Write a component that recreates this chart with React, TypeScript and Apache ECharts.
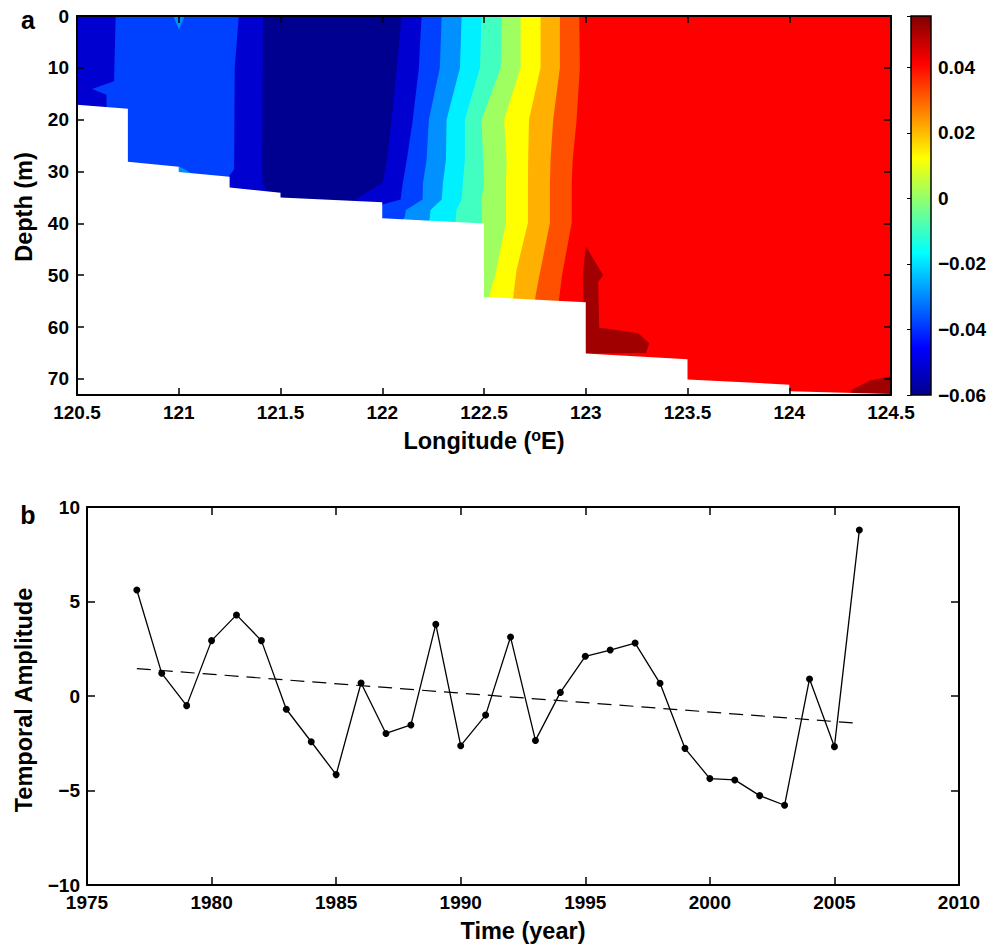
import { useEffect, useRef } from "react";
import * as echarts from "echarts";

type Pt = [number, number];

const FONT = '"Liberation Sans", Arial, Helvetica, sans-serif';

// ---------- Panel a : contour section ----------
const lonMin = 120.5;
const lonMax = 124.5;
const depthMax = 73.1;
const cbMin = -0.06;
const cbMax = 0.0557;

// Contour boundaries [longitude, depth], listed from the surface downward
const contourA: Pt[] = [[120.69, 0], [120.682, 12.6], [120.574, 14.1], [120.645, 15.2], [120.645, 80]];
const contourB: Pt[] = [[121.295, 0], [121.275, 10], [121.272, 29.6], [121.246, 30.9], [121.246, 80]];
const contourC: Pt[] = [[121.414, 0], [121.41, 29.0], [121.413, 32.5], [121.438, 34], [121.438, 80]];
const contourD: Pt[] = [[122.095, 0], [122.072, 10], [122.046, 20], [122.023, 27.7], [122.003, 32.1], [121.88, 35.1], [121.792, 37.4], [121.792, 80]];
const contourE: Pt[] = [[122.193, 0], [122.18, 10], [122.15, 20], [122.121, 27.7], [122.101, 32.2], [122.09, 35.4], [121.997, 36.4], [121.89, 37.4], [121.89, 80]];
const contourF: Pt[] = [[122.292, 0], [122.283, 10], [122.229, 20], [122.218, 27.7], [122.2, 32.2], [122.198, 35.4], [122.116, 37.4], [122.111, 38.7], [122.062, 41.2], [122.062, 80]];
const contourG: Pt[] = [[122.39, 0], [122.382, 10], [122.316, 20], [122.313, 27.7], [122.298, 32.2], [122.292, 35.4], [122.237, 37.4], [122.234, 38.7], [122.224, 41.2], [122.224, 80]];
const contourH: Pt[] = [[122.488, 0], [122.48, 10], [122.406, 20], [122.406, 27.7], [122.396, 32.2], [122.39, 35.4], [122.365, 37.4], [122.362, 38.7], [122.357, 41.2], [122.357, 80]];
const contourI: Pt[] = [[122.587, 0], [122.582, 10], [122.488, 20], [122.496, 27.7], [122.5, 32.2], [122.488, 35.4], [122.49, 39.9], [122.49, 80]];
const contourJ: Pt[] = [[122.68, 0], [122.68, 10], [122.599, 20], [122.611, 27.7], [122.608, 32.2], [122.608, 39.9], [122.554, 50.3], [122.537, 52.2], [122.524, 54.8], [122.524, 80]];
const contourK: Pt[] = [[122.778, 0], [122.778, 10], [122.721, 20], [122.717, 27.7], [122.716, 32.2], [122.716, 39.9], [122.66, 49.0], [122.648, 52.8], [122.642, 54.8], [122.642, 80]];
const contourL: Pt[] = [[122.873, 0], [122.873, 10], [122.84, 20], [122.827, 27.7], [122.824, 32.2], [122.824, 39.9], [122.771, 50.3], [122.759, 52.8], [122.75, 54.8], [122.75, 80]];
const contourM: Pt[] = [[122.968, 0], [122.971, 10], [122.955, 20], [122.936, 27.7], [122.931, 32.2], [122.931, 39.9], [122.882, 50.3], [122.873, 53.4], [122.868, 54.8], [122.868, 80]];

// Small closed patches
const patchTop121: Pt[] = [[120.973, 0], [121.029, 0], [121.001, 2.6]];
const patchBottom121: Pt[] = [[121.0, 29.0], [121.0, 30.2], [121.06, 30.3], [121.03, 29.6]];
const patchDarkRed1: Pt[] = [[123.0, 44.4], [123.086, 50.0], [123.061, 51.3], [123.066, 60.1], [123.258, 61.2], [123.312, 63.1], [123.296, 65.0], [123.0, 65.1], [122.985, 50.3]];
const patchDarkRed2: Pt[] = [[124.307, 72.1], [124.397, 70.3], [124.5, 69.5], [124.6, 69.5], [124.6, 76], [124.3, 76]];

// Sea-floor profile [longitude, depth]
const bottomProfile: Pt[] = [
  [120.5, 17.1], [120.75, 17.9], [120.75, 28.1], [121.0, 29.1], [121.0, 30.1], [121.25, 31.0],
  [121.25, 33.1], [121.5, 34.1], [121.5, 35.0], [122.0, 35.9], [122.0, 39.0], [122.5, 40.0],
  [122.5, 54.2], [123.0, 55.2], [123.0, 65.1], [123.5, 66.2], [123.5, 70.1], [124.0, 71.1],
  [124.0, 72.4], [124.5, 72.9],
];

const contourLines: Pt[][] = [contourA, contourB, contourC, contourD, contourE, contourF, contourG, contourH, contourI, contourJ, contourK, contourL, contourM];
const bandColors = ["#0000D0", "#0040FF", "#0000D0", "#000090", "#0000D0", "#0040FF", "#0090FF", "#00F0FF", "#40FFC0", "#A0FF60", "#FFFF00", "#FFB000", "#FF5000", "#FF0000"];
const patchLight = "#0090FF";
const patchDark = "#A00000";

// Jet colour stops for the colour bar (top → bottom)
const jetStops: [number, string][] = [[0, "#800000"], [0.125, "#FF0000"], [0.375, "#FFFF00"], [0.625, "#00FFFF"], [0.875, "#0000FF"], [1, "#00008F"]];

// ---------- Panel b : temporal amplitude ----------
const years = [1977, 1978, 1979, 1980, 1981, 1982, 1983, 1984, 1985, 1986, 1987, 1988, 1989, 1990, 1991, 1992, 1993, 1994, 1995, 1996, 1997, 1998, 1999, 2000, 2001, 2002, 2003, 2004, 2005, 2006];
const amplitude = [5.61, 1.2, -0.51, 2.93, 4.29, 2.93, -0.7, -2.42, -4.16, 0.69, -1.98, -1.53, 3.79, -2.63, -1.01, 3.12, -2.35, 0.19, 2.1, 2.43, 2.8, 0.67, -2.77, -4.37, -4.44, -5.27, -5.78, 0.9, -2.68, 8.78];
const trendYears = [1977, 2006];
const trendValues = [1.45, -1.45];

// ---------- build layers ----------
type Layer = { pts: Pt[]; color: string };
const layers: Layer[] = [];
layers.push({ pts: [[lonMin - 0.1, -1], [lonMax + 0.1, -1], [lonMax + 0.1, 80], [lonMin - 0.1, 80]], color: bandColors[0] });
contourLines.forEach((line, i) => {
  const pts: Pt[] = [[line[0][0], -1], ...line, [lonMax + 0.1, 80], [lonMax + 0.1, -1]];
  layers.push({ pts, color: bandColors[i + 1] });
  if (i === 0) {
    layers.push({ pts: patchTop121, color: patchLight });
    layers.push({ pts: patchBottom121, color: patchLight });
  }
});
layers.push({ pts: patchDarkRed1, color: patchDark });
layers.push({ pts: patchDarkRed2, color: patchDark });
layers.push({ pts: [...bottomProfile, [lonMax + 0.1, 72.9], [lonMax + 0.1, 80], [lonMin - 0.1, 80], [lonMin - 0.1, 17.1]], color: "#FFFFFF" });

const minus = (s: string) => s.replace("-", "\u2212");
const lineSt = { color: "#000", width: 2 };
const tickSt = { color: "#000", width: 1.5 };
const lbl = { color: "#000", fontFamily: FONT, fontWeight: "bold" as const, fontSize: 19 };
const TITLE = 23.5;

function ax(extra: any) {
  return {
    type: "value",
    axisLine: { show: true, onZero: false, lineStyle: lineSt },
    axisTick: { show: true, inside: true, length: 7, lineStyle: tickSt },
    splitLine: { show: false },
    z: 5,
    ...extra,
  };
}

const option: any = {
  animation: false,
  backgroundColor: "#fff",
  grid: [
    { left: 77, top: 16, width: 814, height: 379 },
    { left: 911, top: 16, width: 20, height: 379 },
    { left: 87, top: 507, width: 872, height: 378 },
  ],
  xAxis: [
    ax({ gridIndex: 0, min: lonMin, max: lonMax, interval: 0.5, position: "bottom", axisLabel: { ...lbl, margin: 8, formatter: (v: number) => String(v) } }),
    ax({ gridIndex: 0, min: lonMin, max: lonMax, interval: 0.5, position: "top", axisLabel: { show: false } }),
    { gridIndex: 1, type: "value", min: 0, max: 1, show: false },
    ax({ gridIndex: 2, min: 1975, max: 2010, interval: 5, position: "bottom", axisTick: { show: true, inside: true, length: 8, lineStyle: tickSt }, axisLabel: { ...lbl, margin: 8, formatter: (v: number) => String(v) } }),
    ax({ gridIndex: 2, min: 1975, max: 2010, interval: 5, position: "top", axisTick: { show: true, inside: true, length: 8, lineStyle: tickSt }, axisLabel: { show: false } }),
  ],
  yAxis: [
    ax({
      gridIndex: 0, inverse: true, min: 0, max: depthMax, interval: 10, position: "left",
      axisLabel: { ...lbl, margin: 8, formatter: (v: number) => (Math.abs(v - Math.round(v / 10) * 10) < 1e-6 ? String(Math.round(v)) : "") },
    }),
    ax({ gridIndex: 0, inverse: true, min: 0, max: depthMax, interval: 10, position: "right", axisLabel: { show: false } }),
    {
      gridIndex: 1, type: "value", min: cbMin, max: cbMax, interval: 0.02, position: "right", z: 5,
      axisLine: { show: false },
      axisTick: { show: true, inside: true, length: 4, lineStyle: { color: "#000", width: 1 } },
      splitLine: { show: false },
      axisLabel: {
        ...lbl, margin: 7,
        formatter: (v: number) => {
          const r = Math.round(v * 100) / 100;
          if (Math.abs(r - v) > 1e-6) return "";
          if (r === 0) return "0";
          return minus(r.toFixed(2));
        },
      },
    },
    ax({ gridIndex: 2, min: -10, max: 10, interval: 5, position: "left", axisTick: { show: true, inside: true, length: 8, lineStyle: tickSt }, axisLabel: { ...lbl, margin: 7, formatter: (v: number) => minus(String(v)) } }),
    ax({ gridIndex: 2, min: -10, max: 10, interval: 5, position: "right", axisTick: { show: true, inside: true, length: 8, lineStyle: tickSt }, axisLabel: { show: false } }),
  ],
  series: [
    {
      type: "custom",
      xAxisIndex: 0,
      yAxisIndex: 0,
      clip: true,
      silent: true,
      z: 1,
      data: layers.map(() => [lonMin, 0]),
      renderItem: (params: any, api: any) => {
        const layer = layers[params.dataIndex];
        return {
          type: "polygon",
          shape: { points: layer.pts.map((p) => api.coord(p)) },
          style: { fill: layer.color },
        };
      },
    },
    {
      type: "custom",
      xAxisIndex: 2,
      yAxisIndex: 2,
      silent: true,
      z: 1,
      data: [[0, cbMin]],
      renderItem: (_params: any, api: any) => {
        const p0 = api.coord([0, cbMax]);
        const p1 = api.coord([1, cbMin]);
        return {
          type: "rect",
          shape: { x: p0[0], y: p0[1], width: p1[0] - p0[0], height: p1[1] - p0[1] },
          style: {
            fill: new echarts.graphic.LinearGradient(0, 0, 0, 1, jetStops.map(([offset, color]) => ({ offset, color }))),
            stroke: "#000",
            lineWidth: 1.5,
          },
        };
      },
    },
    {
      type: "line",
      xAxisIndex: 3,
      yAxisIndex: 3,
      silent: true,
      data: years.map((y, i) => [y, amplitude[i]]),
      symbol: "circle",
      symbolSize: 7,
      itemStyle: { color: "#000" },
      lineStyle: { color: "#000", width: 1.3 },
      z: 3,
    },
    {
      type: "line",
      xAxisIndex: 3,
      yAxisIndex: 3,
      silent: true,
      data: trendYears.map((y, i) => [y, trendValues[i]]),
      symbol: "none",
      lineStyle: { color: "#000", width: 1.2, type: [14, 8] },
      z: 2,
    },
  ],
  graphic: [
    { type: "text", x: 28, y: 20, style: { text: "a", fontFamily: FONT, fontWeight: "bold", fontSize: 25, fill: "#000", align: "center", verticalAlign: "middle" } },
    { type: "text", x: 28, y: 515, style: { text: "b", fontFamily: FONT, fontWeight: "bold", fontSize: 25, fill: "#000", align: "center", verticalAlign: "middle" } },
    { type: "text", x: 24, y: 207, rotation: Math.PI / 2, style: { text: "Depth (m)", fontFamily: FONT, fontWeight: "bold", fontSize: TITLE, fill: "#000", align: "center", verticalAlign: "middle" } },
    {
      type: "text", x: 484, y: 440,
      style: {
        text: "{a|Longitude (}{s|o}{a|E)}",
        rich: {
          a: { fontFamily: FONT, fontWeight: "bold", fontSize: TITLE, lineHeight: 26, fill: "#000", verticalAlign: "bottom" },
          s: { fontFamily: FONT, fontWeight: "bold", fontSize: 16, lineHeight: 16, fill: "#000", verticalAlign: "top" },
        },
        fill: "#000", align: "center", verticalAlign: "middle",
      },
    },
    { type: "text", x: 24, y: 700, rotation: Math.PI / 2, style: { text: "Temporal Amplitude", fontFamily: FONT, fontWeight: "bold", fontSize: TITLE, fill: "#000", align: "center", verticalAlign: "middle" } },
    { type: "text", x: 523, y: 931, style: { text: "Time (year)", fontFamily: FONT, fontWeight: "bold", fontSize: TITLE, fill: "#000", align: "center", verticalAlign: "middle" } },
  ],
};

export default function App() {
  const ref = useRef<HTMLDivElement>(null);
  useEffect(() => {
    const chart = echarts.init(ref.current!, undefined, { renderer: "svg" });
    chart.setOption(option);
    return () => chart.dispose();
  }, []);
  return <div ref={ref} style={{ position: "absolute", left: 0, top: 0, width: 1000, height: 948 }} />;
}
